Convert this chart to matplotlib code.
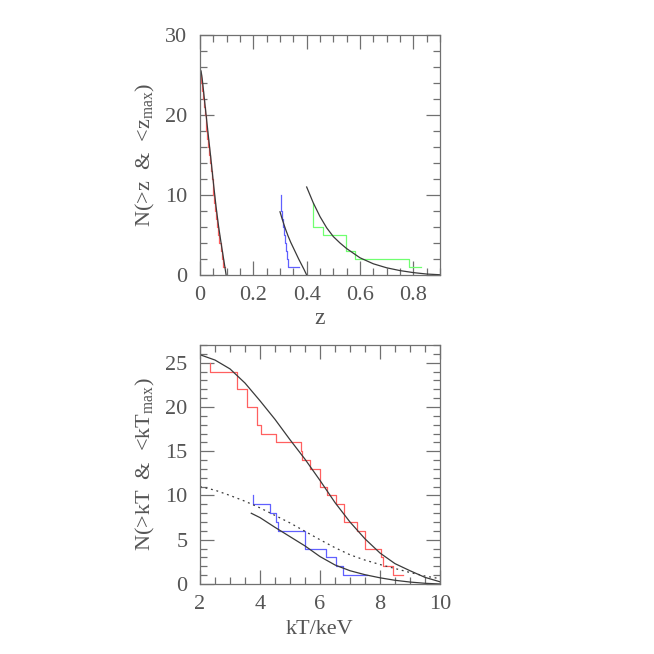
import numpy as np
import matplotlib
matplotlib.use("Agg")
import matplotlib.pyplot as plt
from matplotlib.ticker import MultipleLocator

plt.rcParams['font.family'] = ['Liberation Serif', 'DejaVu Serif']
plt.rcParams['mathtext.fontset'] = 'custom'
plt.rcParams['mathtext.rm'] = 'Liberation Serif'
plt.rcParams['mathtext.it'] = 'Liberation Serif'

# ---- top panel : N(>z) ----
# red sample (steps)
red_z_top = 25
red_z_edges = [0.005, 0.008, 0.011, 0.014, 0.017, 0.021, 0.024, 0.027, 0.030, 0.034,
               0.037, 0.040, 0.044, 0.047, 0.050, 0.053, 0.057, 0.061, 0.065, 0.069,
               0.073, 0.078, 0.083, 0.087]
red_z_levels = [24, 23, 22, 21, 20, 19, 18, 17, 16, 15, 14, 13, 12, 11, 10, 9, 8, 7,
                6, 5, 4, 3, 2, 1]
red_z_start = 0.003
red_z_end = 0.092

# blue sample
blue_z_top = 10
blue_z_edges = [0.302, 0.305, 0.309, 0.312, 0.314, 0.318, 0.322, 0.326, 0.331]
blue_z_levels = [9, 8, 7, 6, 5, 4, 3, 2, 1]
blue_z_start = 0.302
blue_z_end = 0.372

# green sample
green_z_top = 9
green_z_edges = [0.425, 0.460, 0.548, 0.583, 0.783]
green_z_levels = [6, 5, 3, 2, 1]
green_z_start = 0.425
green_z_end = 0.83

# model curves
mod1_z = [0, 0.004, 0.008, 0.012, 0.02, 0.03, 0.04, 0.05, 0.06, 0.07, 0.08, 0.09, 0.098]
mod1_n = [25.7, 25.5, 24.6, 23.4, 20.9, 17.8, 14.8, 11.6, 8.6, 6.0, 3.8, 1.7, 0]
mod2_z = [0.30, 0.31, 0.32, 0.33, 0.34, 0.35, 0.36, 0.37, 0.38, 0.39, 0.40]
mod2_n = [7.9, 6.8, 5.8, 4.9, 4.1, 3.4, 2.7, 2.0, 1.35, 0.7, 0]
mod3_z = [0.40, 0.425, 0.45, 0.475, 0.5, 0.525, 0.55, 0.6, 0.65, 0.7, 0.75, 0.8, 0.85, 0.9]
mod3_n = [11.0, 9.0, 7.3, 5.9, 4.8, 4.0, 3.3, 2.15, 1.4, 0.9, 0.55, 0.3, 0.12, 0.03]

# ---- bottom panel : N(>kT) ----
red_t_top = 25
red_t_edges = [2.33, 3.22, 3.57, 3.90, 4.04, 4.52, 5.35, 5.40, 5.68, 5.99, 6.24, 6.54,
               6.79, 7.24, 7.50, 8.02, 8.11, 8.44]
red_t_levels = [24, 22, 20, 18, 17, 16, 15, 14, 13, 11, 10, 9, 7, 6, 4, 3, 2, 1]
red_t_start = 2.33
red_t_end = 8.76

blue_t_top = 10
blue_t_edges = [3.76, 4.32, 4.54, 4.60, 5.51, 6.19, 6.52, 6.77]
blue_t_levels = [9, 8, 7, 6, 4, 3, 2, 1]
blue_t_start = 3.76
blue_t_end = 7.55

up_kt = [2, 2.5, 3, 3.5, 4, 4.5, 5, 5.5, 6, 6.5, 7, 7.5, 8, 8.5, 9, 9.5, 10]
up_n = [25.9, 25.3, 24.3, 22.7, 20.7, 18.6, 16.3, 14.1, 11.7, 9.2, 7.0, 5.1, 3.5, 2.3, 1.5, 0.75, 0.25]
low_kt = [3.71, 4, 4.5, 5, 5.5, 6, 6.5, 7, 7.5, 8, 8.5, 9, 9.5, 10]
low_n = [7.99, 7.5, 6.4, 5.35, 4.3, 3.1, 2.15, 1.5, 1.05, 0.7, 0.42, 0.22, 0.08, 0]
dot_kt = [2, 2.5, 3, 3.5, 4, 4.5, 5, 5.5, 6, 6.5, 7, 7.5, 8, 8.5, 9, 9.5, 10]
dot_n = [11.0, 10.6, 10.0, 9.35, 8.6, 7.75, 6.9, 5.95, 5.0, 4.1, 3.3, 2.7, 2.2, 1.75, 1.3, 0.9, 0.6]

RED = '#ff6060'
BLUE = '#6060ff'
GREEN = '#70ff70'
DARK = '#3a3a3a'
AXC = '#707070'
TXT = '#555555'


def stairs(start, top, edges, levels, end):
    xs = [start]
    ys = [top]
    prev = top
    for e, l in zip(edges, levels):
        xs += [e, e]
        ys += [prev, l]
        prev = l
    xs.append(end)
    ys.append(prev)
    return xs, ys


def style(ax):
    for s in ax.spines.values():
        s.set_color(AXC)
        s.set_linewidth(0.9)
    ax.tick_params(which='both', direction='in', top=True, right=True,
                   colors=AXC, labelcolor=TXT, labelsize=16, width=0.9)
    ax.tick_params(which='major', length=10)
    ax.tick_params(which='minor', length=5)
    ax.tick_params(axis='x', pad=8)
    ax.tick_params(axis='y', pad=9)


fig = plt.figure(figsize=(6.54, 6.54), dpi=100)
ax1 = fig.add_axes([200/654, 1 - 275/654, 240/654, 240/654])
ax2 = fig.add_axes([200/654, 1 - 584/654, 240/654, 239/654])

lw = 0.9
x, y = stairs(red_z_start, red_z_top, red_z_edges, red_z_levels, red_z_end)
ax1.plot(x, y, color=RED, lw=lw)
x, y = stairs(blue_z_start, blue_z_top, blue_z_edges, blue_z_levels, blue_z_end)
ax1.plot(x, y, color=BLUE, lw=lw)
x, y = stairs(green_z_start, green_z_top, green_z_edges, green_z_levels, green_z_end)
ax1.plot(x, y, color=GREEN, lw=lw)
ax1.plot(mod1_z, mod1_n, color=DARK, lw=lw)
ax1.plot(mod2_z, mod2_n, color=DARK, lw=lw)
ax1.plot(mod3_z, mod3_n, color=DARK, lw=lw)

ax1.set_xlim(0, 0.9)
ax1.set_ylim(0, 30)
ax1.xaxis.set_major_locator(MultipleLocator(0.2))
ax1.xaxis.set_minor_locator(MultipleLocator(0.05))
ax1.yaxis.set_major_locator(MultipleLocator(10))
ax1.yaxis.set_minor_locator(MultipleLocator(2))
ax1.set_xticks([0, 0.2, 0.4, 0.6, 0.8])
ax1.set_xticklabels(['0', '0.2', '0.4', '0.6', '0.8'])
style(ax1)
ax1.set_xlabel('z', fontsize=17, color=TXT, labelpad=2)
ax1.set_ylabel(r'N(>z  &  <z$_{\rm max}$)', fontsize=16, color=TXT, labelpad=6)

x, y = stairs(red_t_start, red_t_top, red_t_edges, red_t_levels, red_t_end)
ax2.plot(x, y, color=RED, lw=lw)
x, y = stairs(blue_t_start, blue_t_top, blue_t_edges, blue_t_levels, blue_t_end)
ax2.plot(x, y, color=BLUE, lw=lw)
ax2.plot(up_kt, up_n, color=DARK, lw=lw)
ax2.plot(low_kt, low_n, color=DARK, lw=lw)
ax2.plot(dot_kt, dot_n, color=DARK, lw=lw, ls=(0, (1.5, 3)))

ax2.set_xlim(2, 10)
ax2.set_ylim(0, 27)
ax2.xaxis.set_major_locator(MultipleLocator(2))
ax2.xaxis.set_minor_locator(MultipleLocator(0.5))
ax2.yaxis.set_major_locator(MultipleLocator(5))
ax2.yaxis.set_minor_locator(MultipleLocator(1))
style(ax2)
ax2.set_xlabel('kT/keV', fontsize=16, color=TXT, labelpad=4)
ax2.set_ylabel(r'N(>kT  &  <kT$_{\rm max}$)', fontsize=16, color=TXT, labelpad=6)

fig.savefig('out.png', dpi=100)
